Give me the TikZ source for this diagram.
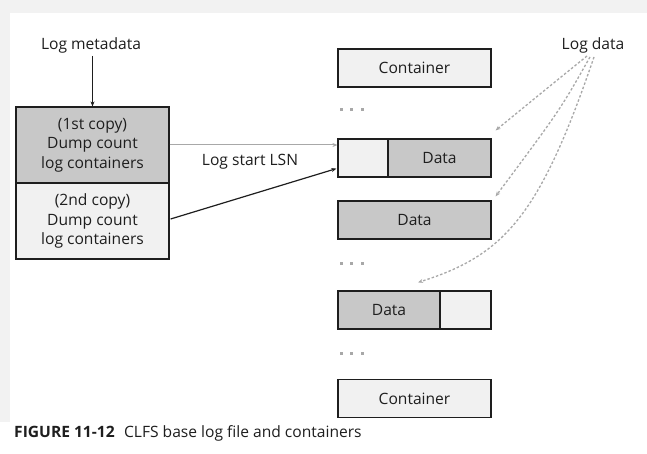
\documentclass[tikz,border=0pt]{standalone}
\usepackage{fontspec}
\setmainfont{Open Sans}
\usetikzlibrary{arrows.meta,calc}
\definecolor{pagegray}{HTML}{F2F2F2}
\definecolor{darkfill}{HTML}{C8C8C8}
\definecolor{lightfill}{HTML}{F1F1F1}
\definecolor{linkgray}{HTML}{A8A8A8}
\definecolor{inkcol}{HTML}{1E1E1E}
\begin{document}
\begin{tikzpicture}[x=1pt,y=-1pt,
  every node/.style={text=inkcol},
  lbl/.style={font=\fontsize{15.6}{19}\selectfont, inner sep=0pt},
  box/.style={draw=inkcol, line width=1.2pt, inner sep=0pt, font=\fontsize{15.6}{19.5}\selectfont, align=center},
  meta/.style={box, minimum width=153pt, minimum height=76pt},
  slot/.style={box, minimum height=38pt},
  blackarrow/.style={draw=inkcol, line width=1.2pt, -{Stealth[length=5pt,width=4pt]}},
  grayarrow/.style={draw=linkgray, line width=1pt, -{Stealth[length=5pt,width=4pt]}},
  dataarrow/.style={draw=linkgray, line width=1.3pt, dash pattern=on 2.5pt off 2pt, -{Stealth[length=5pt,width=4pt]}},
  dotmark/.style={fill=linkgray}
]
\useasboundingbox (0,0) rectangle (647,454);
\fill[white] (0,0) rectangle (647,454);
\fill[pagegray] (0,0) rectangle (647,13);
\fill[pagegray] (0,0) rectangle (10,422);

% left metadata block
\node[lbl] (lm) at (91,45) {Log metadata};
\node[meta, fill=darkfill] (m1) at (92.5,145) {(1st copy)\\Dump count\\log containers};
\node[meta, fill=lightfill] (m2) at (92.5,221) {(2nd copy)\\Dump count\\log containers};
\draw[blackarrow] (lm.south -| m1.north) ++(0,3) -- (m1.north);

% right column
\node[slot, fill=lightfill, minimum width=153pt] (c1) at (414.5,68) {Container};
\node[slot, fill=lightfill, minimum width=50pt] (d1a) at (363,158) {};
\node[slot, fill=darkfill, minimum width=103pt] (d1b) at (439.5,158) {Data};
\node[slot, fill=darkfill, minimum width=153pt] (d2) at (414.5,220) {Data};
\node[slot, fill=darkfill, minimum width=102pt] (d3a) at (389,310) {Data};
\node[slot, fill=lightfill, minimum width=51pt] (d3b) at (465.5,310) {};
\node[slot, fill=lightfill, minimum width=153pt] (c2) at (414.5,398.5) {Container};

% ellipsis marks
\foreach \yy in {110,263,353}{
  \foreach \xx in {341,351.5,362}{
    \fill[dotmark] (\xx-1.5,\yy-1.5) rectangle (\xx+1.5,\yy+1.5);
  }
}

% links from metadata
\draw[grayarrow] (m1.east) -- (m1.east -| d1a.west);
\node[lbl] (lsn) at (250,162) {Log start LSN};
\coordinate (blackend) at ($(d1a.south west)+(-1,-9)$);
\draw[blackarrow] ($(m2.east)+(1,-2)$) -- (blackend);

% log data
\node[lbl] (ld) at (593,45) {Log data};
\draw[dataarrow] ($(ld.south)+(-6,3)$) .. controls (545,90) .. ($(d1b.north east)+(4,-8)$);
\draw[dataarrow] ($(ld.south)+(-3,4)$) .. controls (560,110) .. ($(d2.north east)+(4,-4)$);
\draw[dataarrow] ($(ld.south)+(1,4)$) .. controls (540,215) and (505,255) .. ($(d3a.north)+(29,-8)$);

% caption
\node[anchor=west, inner sep=0pt, font=\fontsize{15.6}{18}\selectfont] (cap) at (14,433)
  {\textbf{FIGURE 11-12}\hspace{0.6em}CLFS base log file and containers};
\end{tikzpicture}
\end{document}
